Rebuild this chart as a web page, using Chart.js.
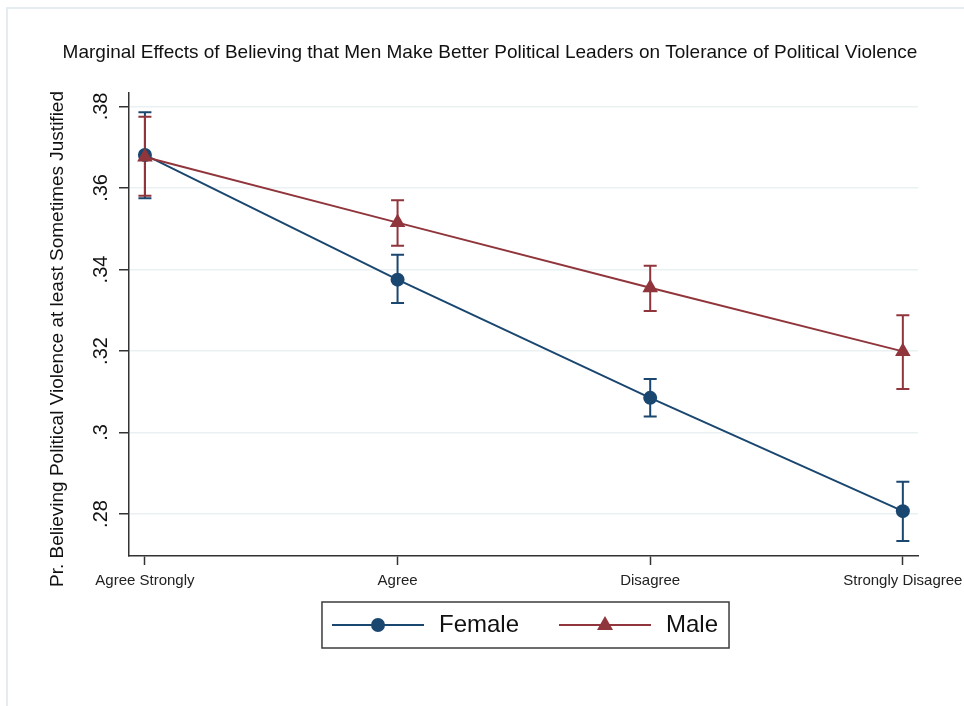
<!DOCTYPE html>
<html lang="en">
<head>
    <meta charset="UTF-8">
    <title>Marginal Effects on Tolerance of Political Violence</title>
    <style>
        body { margin: 0; background: #fff; }
        #chart { display: block; }
    </style>
</head>
<body>
    <canvas id="chart" width="964" height="706"></canvas>

    <script src="https://cdn.jsdelivr.net/npm/chart.js"></script>
    <script>
        // x axis categories
        const categories = ['Agree Strongly', 'Agree', 'Disagree', 'Strongly Disagree'];

        // predicted probabilities with 95% CIs
        const femaleMargin = [0.3681, 0.3375, 0.3085, 0.2807];
        const femaleLower  = [0.3575, 0.3318, 0.3039, 0.2734];
        const femaleUpper  = [0.3786, 0.3436, 0.3131, 0.2879];
        const maleMargin   = [0.3676, 0.3515, 0.3355, 0.3199];
        const maleLower    = [0.3581, 0.3458, 0.3298, 0.3107];
        const maleUpper    = [0.3775, 0.3570, 0.3409, 0.3288];

        // y axis ticks, Stata style labels
        const yTicks = [0.28, 0.30, 0.32, 0.34, 0.36, 0.38];
        const yTickLabels = ['.28', '.3', '.32', '.34', '.36', '.38'];

        const navy = '#1a476f';
        const maroon = '#90353b';
        const FONT = "'Liberation Sans', Arial, sans-serif";
        Chart.defaults.font.family = FONT;

        // legend symbol: line with marker in the middle
        function legendIcon(color, style) {
            const c = document.createElement('canvas');
            c.width = 92;
            c.height = 24;
            const g = c.getContext('2d');
            g.strokeStyle = color;
            g.fillStyle = color;
            g.lineWidth = 2;
            g.beginPath();
            g.moveTo(0, 12);
            g.lineTo(92, 12);
            g.stroke();
            g.beginPath();
            if (style === 'circle') {
                g.arc(46, 12, 7, 0, Math.PI * 2);
            } else {
                g.moveTo(46, 3);
                g.lineTo(54, 17);
                g.lineTo(38, 17);
                g.closePath();
            }
            g.fill();
            return c;
        }
        const legendIcons = [legendIcon(navy, 'circle'), legendIcon(maroon, 'triangle')];

        const toPoints = arr => arr.map((v, i) => ({ x: i, y: v }));

        // confidence interval caps, drawn under the lines
        const ciBars = {
            id: 'ciBars',
            beforeDatasetsDraw(chart) {
                const { ctx, scales: { x, y } } = chart;
                chart.data.datasets.forEach(ds => {
                    ctx.save();
                    ctx.strokeStyle = ds.borderColor;
                    ctx.lineWidth = 2;
                    ds.ciLower.forEach((lo, i) => {
                        const px = x.getPixelForValue(i);
                        const yl = y.getPixelForValue(lo);
                        const yu = y.getPixelForValue(ds.ciUpper[i]);
                        ctx.beginPath();
                        ctx.moveTo(px, yl); ctx.lineTo(px, yu);
                        ctx.moveTo(px - 6.5, yl); ctx.lineTo(px + 6.5, yl);
                        ctx.moveTo(px - 6.5, yu); ctx.lineTo(px + 6.5, yu);
                        ctx.stroke();
                    });
                    ctx.restore();
                });
            }
        };

        // white background + light outer frame; let x labels overflow into legend gap
        const frame = {
            id: 'frame',
            afterLayout(chart) {
                const x = chart.scales.x;
                x.bottom = x.top + 40;
                x.height = 40;
            },
            beforeDraw(chart) {
                const { ctx, width, height } = chart;
                ctx.save();
                ctx.fillStyle = '#fff';
                ctx.fillRect(0, 0, width, height);
                ctx.strokeStyle = '#e6edf0';
                ctx.lineWidth = 2;
                ctx.beginPath();
                ctx.moveTo(7, height);
                ctx.lineTo(7, 8);
                ctx.lineTo(width, 8);
                ctx.stroke();
                ctx.restore();
            }
        };

        // y axis title (drawn here so it is not squeezed to the axis height)
        const yTitle = {
            id: 'yTitle',
            afterDraw(chart) {
                const { ctx, chartArea } = chart;
                ctx.save();
                ctx.translate(chart.scales.y.left + 18, (chartArea.top + chartArea.bottom) / 2 + 14.5);
                ctx.rotate(-Math.PI / 2);
                ctx.font = '19px ' + FONT;
                ctx.fillStyle = '#111';
                ctx.textAlign = 'center';
                ctx.textBaseline = 'middle';
                ctx.fillText('Pr. Believing Political Violence at least Sometimes Justified', 0, 0);
                ctx.restore();
            }
        };

        // box round the legend
        const legendBox = {
            id: 'legendBox',
            afterDraw(chart) {
                const boxes = chart.legend.legendHitBoxes;
                if (!boxes.length) return;
                const left = Math.min(...boxes.map(b => b.left)) - 7;
                const right = Math.max(...boxes.map(b => b.left + b.width)) + 11;
                const top = boxes[0].top - 11;
                const bottom = boxes[0].top + boxes[0].height + 11;
                const ctx = chart.ctx;
                ctx.save();
                ctx.strokeStyle = '#3c3c3c';
                ctx.lineWidth = 1.5;
                ctx.strokeRect(left, top, right - left, bottom - top);
                ctx.restore();
            }
        };

        new Chart(document.getElementById('chart'), {
            type: 'line',
            data: {
                datasets: [
                    {
                        label: 'Female',
                        data: toPoints(femaleMargin),
                        ciLower: femaleLower,
                        ciUpper: femaleUpper,
                        borderColor: navy,
                        backgroundColor: navy,
                        borderWidth: 2,
                        pointStyle: 'circle',
                        pointRadius: 7,
                        pointBorderWidth: 0,
                        tension: 0,
                        order: 1
                    },
                    {
                        label: 'Male',
                        data: toPoints(maleMargin),
                        ciLower: maleLower,
                        ciUpper: maleUpper,
                        borderColor: maroon,
                        backgroundColor: maroon,
                        borderWidth: 2,
                        pointStyle: 'triangle',
                        pointRadius: 9,
                        pointBorderWidth: 0,
                        tension: 0,
                        order: 0
                    }
                ]
            },
            options: {
                responsive: false,
                animation: false,
                layout: { padding: { left: 40, right: 24, top: 0, bottom: 59 } },
                scales: {
                    x: {
                        type: 'linear',
                        min: -0.063,
                        max: 3.06,
                        afterBuildTicks: s => { s.ticks = categories.map((c, i) => ({ value: i })); },
                        afterFit: s => { s.height = 20; s.paddingLeft = 0; s.paddingRight = 46; },
                        ticks: {
                            autoSkip: false,
                            maxRotation: 0,
                            padding: 7,
                            color: '#222',
                            font: { size: 15 },
                            callback: v => categories[v]
                        },
                        grid: {
                            drawOnChartArea: false,
                            tickLength: 9,
                            tickColor: '#333',
                            tickWidth: 1.5
                        },
                        border: { color: '#333', width: 1.5 }
                    },
                    y: {
                        min: 0.2697,
                        max: 0.3833,
                        afterBuildTicks: s => { s.ticks = yTicks.map(v => ({ value: v })); },
                        afterFit: s => { s.width = 89; s.paddingTop = 0; s.paddingBottom = 0; },
                        ticks: {
                            minRotation: 90,
                            maxRotation: 90,
                            crossAlign: 'center',
                            padding: 4,
                            color: '#111',
                            font: { size: 20 },
                            callback: (v, i) => yTickLabels[i]
                        },
                        grid: {
                            color: '#eaf1f3',
                            lineWidth: 1.5,
                            tickLength: 10,
                            tickColor: '#333',
                            tickWidth: 1.5
                        },
                        border: { color: '#333', width: 1.5 }
                    }
                },
                plugins: {
                    title: {
                        display: true,
                        text: 'Marginal Effects of Believing that Men Make Better Political Leaders on Tolerance of Political Violence',
                        color: '#111',
                        font: { size: 19, weight: 'normal' },
                        padding: { top: 41.6, bottom: 28.6 }
                    },
                    legend: {
                        position: 'bottom',
                        fullSize: false,
                        labels: {
                            usePointStyle: true,
                            pointStyleWidth: 98,
                            padding: 37,
                            color: '#111',
                            font: { size: 24 },
                            sort: (a, b) => a.datasetIndex - b.datasetIndex,
                            generateLabels: chart => Chart.defaults.plugins.legend.labels.generateLabels(chart)
                                .map(l => ({ ...l, pointStyle: legendIcons[l.datasetIndex] }))
                        }
                    },
                    tooltip: { enabled: false }
                }
            },
            plugins: [frame, ciBars, yTitle, legendBox]
        });
    </script>
</body>
</html>
